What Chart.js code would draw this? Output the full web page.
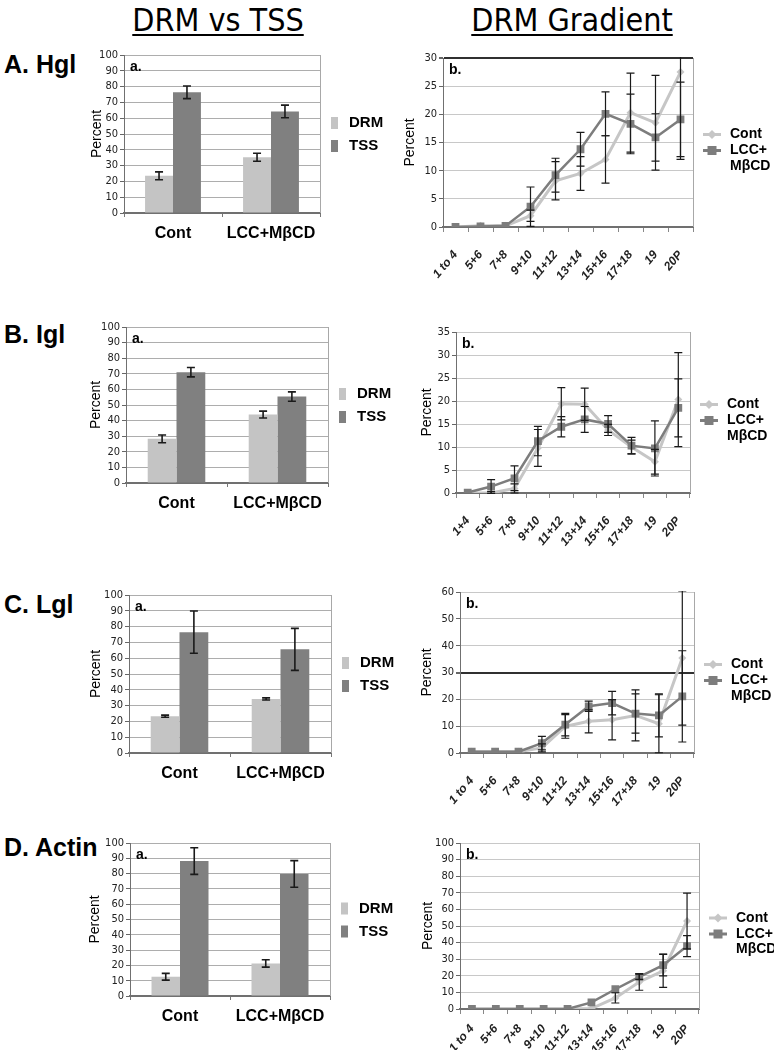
<!DOCTYPE html>
<html>
<head>
<meta charset="utf-8">
<script src="https://cdn.jsdelivr.net/npm/chart.js@4.4.1/dist/chart.umd.min.js"></script>
<style>
  body { margin: 0; background: #fff; width: 774px; height: 1050px; position: relative; overflow: hidden;
         font-family: Arial, "Liberation Sans", sans-serif; }
  canvas { position: absolute; }
  .head { position: absolute; width: 300px; text-align: center; font-size: 32px; line-height: 32px;
          font-family: "Liberation Sans Narrow", "Arial Narrow", "DejaVu Sans Condensed", Arial, sans-serif;
          text-decoration: underline; text-underline-offset: 3px; text-decoration-thickness: 2px; }
  .row { position: absolute; left: 4px; font-size: 25px; line-height: 24px; font-weight: bold; }
</style>
</head>
<body>
<div class="head" style="left:68px; top:4px;">DRM vs TSS</div>
<div class="head" style="left:422px; top:4px;">DRM Gradient</div>
<div class="row" style="top:52px;">A. Hgl</div>
<div class="row" style="top:322px;">B. Igl</div>
<div class="row" style="top:592px;">C. Lgl</div>
<div class="row" style="top:835px;">D. Actin</div>

<script>
// categories
var groups = ["Cont", "LCC+M\u03b2CD"];
var fractions = ["1 to 4", "5+6", "7+8", "9+10", "11+12", "13+14", "15+16", "17+18", "19", "20P"];
var fractionsIgl = ["1+4", "5+6", "7+8", "9+10", "11+12", "13+14", "15+16", "17+18", "19", "20P"];
var barSeries = ["DRM", "TSS"];
var lineSeries = ["Cont", "LCC+\nM\u03b2CD"];

// a. DRM vs TSS (percent) with +/- error
var hglDRM = [23.5, 35.3], hglDRMErr = [2.5, 2.5];
var hglTSS = [76.4, 64.3], hglTSSErr = [4, 4];
var iglDRM = [28.3, 43.9], iglDRMErr = [2.5, 2.2];
var iglTSS = [71, 55.4], iglTSSErr = [3, 3];
var lglDRM = [23.3, 34.2], lglDRMErr = [0.7, 0.7];
var lglTSS = [76.5, 65.6], lglTSSErr = [13.4, 13.3];
var actinDRM = [12.6, 21.3], actinDRMErr = [2.2, 2.4];
var actinTSS = [88.2, 79.8], actinTSSErr = [8.7, 8.7];

// b. DRM gradient (percent) with +/- error
var hglCont = [0, 0.2, 0.2, 2, 8.2, 9.5, 12, 20.3, 18.5, 27.5];
var hglContErr = [0, 0, 0, 1, 3.4, 3, 4.2, 7, 8.4, 15.5];
var hglLcc = [0, 0.1, 0.2, 3.6, 9.2, 13.8, 20.1, 18.3, 15.9, 19.1];
var hglLccErr = [0, 0, 0, 3.5, 3, 3, 3.9, 5.3, 4.2, 6.6];

var iglCont = [0, 0, 1, 9.8, 19.4, 19.3, 13.7, 10, 6.8, 20.3];
var iglContErr = [0, 0.3, 1, 4, 3.5, 3.5, 1.2, 1.5, 2.7, 10.2];
var iglLcc = [0.1, 1.4, 3.2, 11.3, 14.4, 16, 15, 10.3, 9.7, 18.5];
var iglLccErr = [0, 1.5, 2.7, 3.2, 2.2, 2.8, 1.8, 1.8, 6, 6.3];

var lglCont = [0.5, 0.5, 0.5, 1.9, 9.9, 11.8, 12.4, 14, 10.9, 35.4];
var lglContErr = [0, 0, 0, 1.5, 4.4, 4.3, 7.5, 9.5, 10.8, 25];
var lglLcc = [0.5, 0.5, 0.5, 3.7, 10.6, 17.4, 18.6, 14.7, 14, 21.1];
var lglLccErr = [0, 0, 0, 2.5, 4.2, 1.9, 4.4, 7.3, 8, 17];

var actinCont = [0, 0, 0, 0, 0, 0.3, 6.7, 16.3, 23, 53];
var actinContErr = [0, 0, 0, 0, 0, 0, 3.1, 5, 10, 16.8];
var actinLcc = [0, 0, 0, 0, 0, 4, 11.9, 19.4, 26.4, 37.9];
var actinLccErr = [0, 0, 0, 0, 0, 0, 0, 1.6, 6.5, 6.3];

var LIGHT = "#c4c4c4";
var DARK = "#808080";
var FONT = "Arial, 'Liberation Sans', sans-serif";
var NARROW = "'Liberation Sans Narrow', 'Arial Narrow', 'DejaVu Sans Condensed', Arial, sans-serif";

// error bars drawn over each bar / point
var errorBars = {
  id: "errorBars",
  afterDatasetsDraw: function (chart) {
    var ctx = chart.ctx, area = chart.chartArea, ys = chart.scales.y;
    ctx.save();
    ctx.beginPath();
    ctx.rect(area.left, area.top - 1, area.right - area.left, area.bottom - area.top + 2);
    ctx.clip();
    chart.data.datasets.forEach(function (ds, i) {
      if (!ds.errors) return;
      chart.getDatasetMeta(i).data.forEach(function (el, j) {
        var e = ds.errors[j];
        if (!e) return;
        var hi = ys.getPixelForValue(ds.data[j] + e);
        var lo = ys.getPixelForValue(ds.data[j] - e);
        var cap = ds.capWidth || 4;
        ctx.strokeStyle = "#1a1a1a";
        ctx.lineWidth = ds.errWidth || 1.2;
        ctx.beginPath();
        ctx.moveTo(el.x, hi); ctx.lineTo(el.x, lo);
        ctx.moveTo(el.x - cap, hi); ctx.lineTo(el.x + cap, hi);
        ctx.moveTo(el.x - cap, lo); ctx.lineTo(el.x + cap, lo);
        ctx.stroke();
      });
    });
    ctx.restore();
  }
};

// right frame edge, panel tag ("a." / "b.") and legend at the right of the plot
var panelDecor = {
  id: "panelDecor",
  afterDraw: function (chart, args, opts) {
    var ctx = chart.ctx, a = chart.chartArea;
    ctx.save();
    ctx.strokeStyle = "#a8a8a8";
    ctx.lineWidth = 1;
    ctx.beginPath();
    ctx.moveTo(a.right + 0.5, a.top); ctx.lineTo(a.right + 0.5, a.bottom);
    ctx.stroke();

    ctx.fillStyle = "#000";
    ctx.font = "bold 14px " + FONT;
    ctx.textBaseline = "middle";
    ctx.textAlign = "left";
    ctx.fillText(opts.tag, a.left + 6, a.top + 12);

    var cy = (a.top + a.bottom) / 2;
    var ds = chart.data.datasets;
    if (opts.kind === "bar") {
      ctx.font = "bold 15px " + FONT;
      ds.forEach(function (d, i) {
        var y = cy - 11 + i * 23;
        ctx.fillStyle = d.backgroundColor;
        ctx.fillRect(a.right + 11, y - 6, 7, 12);
        ctx.fillStyle = "#000";
        ctx.fillText(d.label, a.right + 29, y);
      });
    } else {
      ctx.font = "bold 14px " + FONT;
      var y = cy - 8;
      ds.forEach(function (d) {
        ctx.strokeStyle = d.borderColor;
        ctx.lineWidth = 3;
        ctx.beginPath();
        ctx.moveTo(a.right + 10, y); ctx.lineTo(a.right + 28, y);
        ctx.stroke();
        ctx.fillStyle = d.borderColor;
        var mx = a.right + 19;
        ctx.beginPath();
        if (d.pointStyle === "rectRot") {
          ctx.moveTo(mx, y - 4.5); ctx.lineTo(mx + 4.5, y); ctx.lineTo(mx, y + 4.5); ctx.lineTo(mx - 4.5, y);
        } else {
          ctx.rect(mx - 4.5, y - 4.5, 9, 9);
        }
        ctx.fill();
        ctx.fillStyle = "#000";
        d.label.split("\n").forEach(function (line, k) {
          ctx.fillText(line, a.right + 37, y + k * 15.5);
        });
        y += 16;
      });
    }
    ctx.restore();
  }
};

function addCanvas(left, top, width, height) {
  var cv = document.createElement("canvas");
  cv.width = width;
  cv.height = height;
  cv.style.left = left + "px";
  cv.style.top = top + "px";
  document.body.appendChild(cv);
  return cv;
}

function yTitle() {
  return { display: true, text: "Percent", color: "#000", font: { size: 14, family: FONT }, padding: { top: 0, bottom: 0 } };
}

function makeBar(p, drm, drmErr, tss, tssErr) {
  var yw = Math.round(p.l - (p.titleX - 8.4));
  var left = p.l - yw, top = p.t - 12;
  var cv = addCanvas(left, top, 400 - left, p.b + 34 - top);
  new Chart(cv, {
    type: "bar",
    data: {
      labels: groups,
      datasets: [
        { label: barSeries[0], data: drm, errors: drmErr, backgroundColor: LIGHT, capWidth: 4, errWidth: 1.6 },
        { label: barSeries[1], data: tss, errors: tssErr, backgroundColor: DARK, capWidth: 4, errWidth: 1.6 }
      ]
    },
    options: {
      responsive: false,
      animation: false,
      devicePixelRatio: 1,
      categoryPercentage: 0.57,
      barPercentage: 1,
      layout: { padding: { top: 12, right: 400 - p.r, left: 0, bottom: 0 } },
      plugins: { legend: { display: false }, tooltip: { enabled: false }, panelDecor: { tag: "a.", kind: "bar" } },
      scales: {
        x: {
          grid: { drawOnChartArea: false, offset: true, tickLength: 4, color: "#777" },
          border: { color: "#707070", width: 2 },
          ticks: { color: "#000", font: { size: 16, weight: "bold", family: FONT }, padding: 7 },
          afterFit: function (s) { s.height = 34; }
        },
        y: {
          min: 0, max: 100,
          ticks: { stepSize: 10, autoSkip: false, color: "#222", font: { size: 11, family: NARROW }, padding: 2 },
          grid: { color: "#adadad", tickLength: 4, tickColor: "#666" },
          border: { color: "#707070" },
          title: yTitle(),
          afterFit: function (s) { s.width = yw; }
        }
      }
    },
    plugins: [errorBars, panelDecor]
  });
}

function makeLine(p, labels, cont, contErr, lcc, lccErr) {
  var yw = Math.round(p.l - (p.titleX - 8.4));
  var left = p.l - yw, top = p.t - 12;
  var cv = addCanvas(left, top, 774 - left, p.b + 70 - top);
  new Chart(cv, {
    type: "line",
    data: {
      labels: labels,
      datasets: [
        { label: lineSeries[0], data: cont, errors: contErr, order: 2,
          borderColor: "#c6c6c6", backgroundColor: "#c6c6c6", borderWidth: 3,
          pointStyle: "rectRot", pointRadius: 4, pointBorderWidth: 0, pointBackgroundColor: "#c6c6c6" },
        { label: lineSeries[1], data: lcc, errors: lccErr, order: 1,
          borderColor: "#7d7d7d", backgroundColor: "#7d7d7d", borderWidth: 2.5,
          pointStyle: "rect", pointRadius: 5.5, pointBorderWidth: 0, pointBackgroundColor: "#7d7d7d" }
      ]
    },
    options: {
      responsive: false,
      animation: false,
      devicePixelRatio: 1,
      layout: { padding: { top: 12, right: 774 - p.r, left: 0, bottom: 0 } },
      elements: { line: { tension: 0 } },
      plugins: { legend: { display: false }, tooltip: { enabled: false }, panelDecor: { tag: "b.", kind: "line" } },
      scales: {
        x: {
          offset: true,
          grid: { drawOnChartArea: false, offset: true, tickLength: 5, color: "#888" },
          border: { color: "#707070", width: 2 },
          ticks: { autoSkip: false, maxRotation: 50, minRotation: 50, color: "#222",
                   font: { size: 12, weight: "bold", style: "italic", family: FONT }, padding: p.labelPad },
          afterFit: function (s) { s.height = 70; }
        },
        y: {
          min: 0, max: p.max,
          ticks: { stepSize: p.step, autoSkip: false, color: "#222", font: { size: 11, family: NARROW }, padding: 2 },
          grid: {
            color: function (c) { return c.tick && c.tick.value === p.dark ? "#303030" : "#c8c8c8"; },
            lineWidth: function (c) { return c.tick && c.tick.value === p.dark ? 2 : 1; },
            tickLength: 4, tickColor: "#666"
          },
          border: { color: "#707070" },
          title: yTitle(),
          afterFit: function (s) { s.width = yw; }
        }
      }
    },
    plugins: [errorBars, panelDecor]
  });
}

makeBar({ l: 124, t: 55, r: 320, b: 213, titleX: 97 }, hglDRM, hglDRMErr, hglTSS, hglTSSErr);
makeBar({ l: 126, t: 327, r: 328, b: 483, titleX: 96 }, iglDRM, iglDRMErr, iglTSS, iglTSSErr);
makeBar({ l: 129, t: 595, r: 331, b: 753, titleX: 96 }, lglDRM, lglDRMErr, lglTSS, lglTSSErr);
makeBar({ l: 130, t: 843, r: 330, b: 996, titleX: 95 }, actinDRM, actinDRMErr, actinTSS, actinTSSErr);

makeLine({ l: 443, t: 58, r: 693, b: 227, titleX: 410, max: 30, step: 5, dark: 30, labelPad: 16 }, fractions, hglCont, hglContErr, hglLcc, hglLccErr);
makeLine({ l: 456, t: 332, r: 690, b: 493, titleX: 427, max: 35, step: 5, dark: -1, labelPad: 16 }, fractionsIgl, iglCont, iglContErr, iglLcc, iglLccErr);
makeLine({ l: 460, t: 592, r: 694, b: 753, titleX: 427, max: 60, step: 10, dark: 30, labelPad: 16 }, fractions, lglCont, lglContErr, lglLcc, lglLccErr);
makeLine({ l: 460, t: 843, r: 699, b: 1009, titleX: 428, max: 100, step: 10, dark: -1, labelPad: 8 }, fractions, actinCont, actinContErr, actinLcc, actinLccErr);
</script>
</body>
</html>
